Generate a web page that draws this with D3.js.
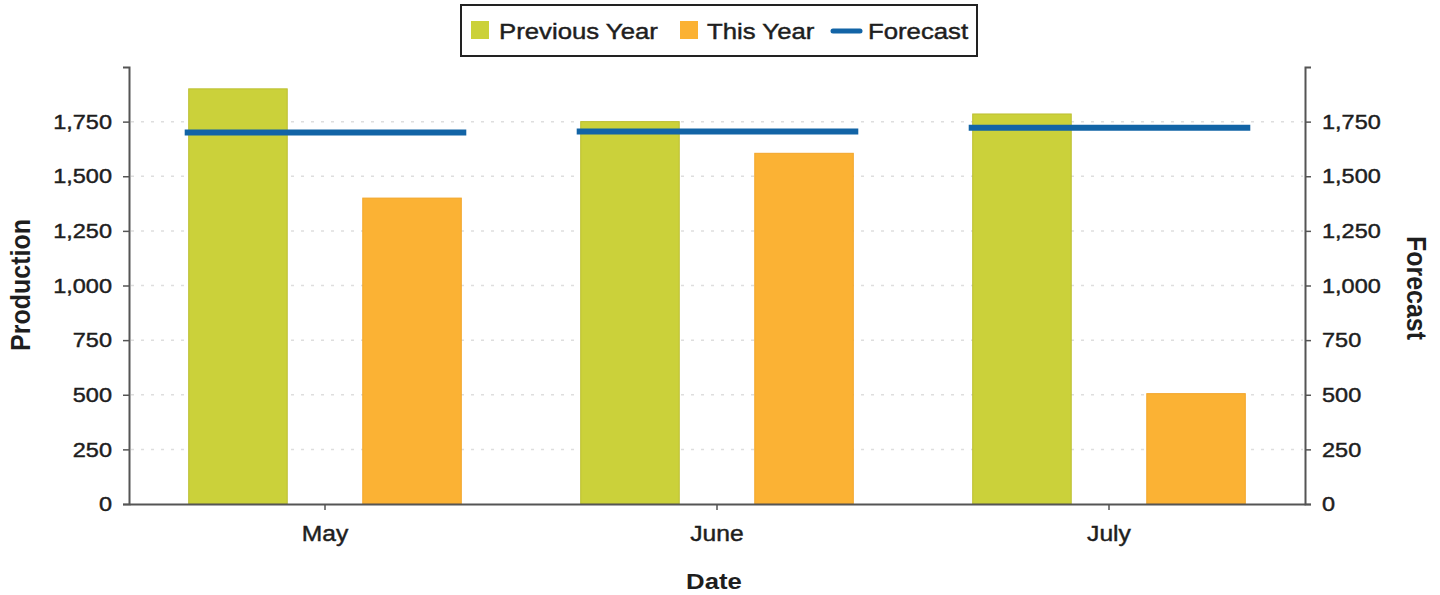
<!DOCTYPE html>
<html>
<head>
<meta charset="utf-8">
<script src="https://cdn.jsdelivr.net/npm/d3@7"></script>
<style>
  html, body { margin: 0; padding: 0; background: #fff; }
  svg { display: block; }
  text { font-family: "Liberation Sans", Arial, sans-serif; fill: #1e1e1e; }
</style>
</head>
<body>
<svg id="chart" width="1440" height="595"></svg>
<script>
// ---- data ----
const categories = ["May", "June", "July"];
const seriesNames = ["Previous Year", "This Year"];
const previousYear = [1900, 1750, 1785];
const thisYear = [1400, 1605, 505];
const forecast = [1700, 1705, 1722];
const tickValues = [0, 250, 500, 750, 1000, 1250, 1500, 1750];

// ---- styles ----
const colors = { "Previous Year": "#cbd13a", "This Year": "#fbb234", "Forecast": "#1264a6" };
const SX = 1.12; // horizontal stretch of the scanned text

const svg = d3.select("#chart");
const mLeft = 129, mRight = 1305, mTop = 67, mBottom = 504;

const x0 = d3.scaleBand().domain(categories).range([mLeft, mRight]).padding(0);
const x1 = d3.scaleBand().domain(seriesNames).range([0, x0.bandwidth()])
  .paddingInner(0.434).paddingOuter(0.343);
const yL = d3.scaleLinear().domain([0, 2000]).range([mBottom, mTop]);
const yR = d3.scaleLinear().domain([0, 2000]).range([mBottom, mTop]);

function stretch(sel) {
  sel.each(function () {
    const t = d3.select(this);
    const x = +t.attr("x") || 0;
    t.attr("transform", `translate(${x},0) scale(${SX},1) translate(${-x},0)`);
  });
}
function heavy(sel) {
  sel.attr("stroke", "#1e1e1e").attr("stroke-width", 0.45);
}

// gridlines
svg.append("g").selectAll("line").data(tickValues.filter(d => d > 0)).join("line")
  .attr("x1", mLeft + 2).attr("x2", mRight - 2)
  .attr("y1", d => yL(d)).attr("y2", d => yL(d))
  .attr("stroke", "#dedede").attr("stroke-width", 1.5)
  .attr("stroke-dasharray", "3,7");

// bars
const rows = categories.map((c, i) => ({ cat: c, vals: [
  { key: "Previous Year", v: previousYear[i] },
  { key: "This Year", v: thisYear[i] }] }));
const groups = svg.append("g").selectAll("g").data(rows).join("g")
  .attr("transform", d => `translate(${x0(d.cat)},0)`);
groups.selectAll("rect").data(d => d.vals).join("rect")
  .attr("x", d => x1(d.key)).attr("width", x1.bandwidth())
  .attr("y", d => yL(d.v)).attr("height", d => yL(0) - yL(d.v))
  .attr("fill", d => colors[d.key])
  .attr("stroke", d => d.key === "Previous Year" ? "#bcbf30" : "#f2a52a")
  .attr("stroke-width", 1);

// forecast segments
svg.append("g").selectAll("line").data(categories).join("line")
  .attr("x1", (c) => x0(c) + x1("Previous Year") - 4)
  .attr("x2", (c) => x0(c) + x1("This Year") + x1.bandwidth() + 5)
  .attr("y1", (c, i) => yR(forecast[i])).attr("y2", (c, i) => yR(forecast[i]))
  .attr("stroke", colors["Forecast"]).attr("stroke-width", 6);

// axes
const fmt = d3.format(",");
const axL = svg.append("g").attr("transform", `translate(${mLeft},0)`)
  .call(d3.axisLeft(yL).tickValues(tickValues).tickFormat(fmt).tickSize(6).tickPadding(11));
const axR = svg.append("g").attr("transform", `translate(${mRight},0)`)
  .call(d3.axisRight(yR).tickValues(tickValues).tickFormat(fmt).tickSize(6).tickPadding(11));
const axB = svg.append("g").attr("transform", `translate(0,${mBottom})`)
  .call(d3.axisBottom(x0).tickSize(6).tickPadding(15).tickSizeOuter(0));

[axL, axR, axB].forEach(a => {
  a.select(".domain").attr("stroke", "#555").attr("stroke-width", 2);
  a.selectAll(".tick line").attr("stroke", "#555").attr("stroke-width", 1.5);
  a.selectAll("text").attr("font-size", 21).attr("fill", "#1e1e1e")
    .style("font-family", '"Liberation Sans", Arial, sans-serif').call(heavy);
});
axB.selectAll("text").attr("font-size", 22);
axL.selectAll(".tick text").call(stretch);
axR.selectAll(".tick text").call(stretch);
axB.selectAll(".tick text").call(stretch);

// axis titles
svg.append("text").attr("transform", `translate(30,285) rotate(-90) scale(1,${SX})`)
  .attr("text-anchor", "middle").attr("font-size", 25).attr("font-weight", "bold")
  .text("Production");
svg.append("text").attr("transform", `translate(1407,288) rotate(90) scale(1,${SX})`)
  .attr("text-anchor", "middle").attr("font-size", 25).attr("font-weight", "bold")
  .text("Forecast");
svg.append("text").attr("x", 714).attr("y", 589)
  .attr("text-anchor", "middle").attr("font-size", 23).attr("font-weight", "bold")
  .text("Date").call(stretch);

// legend
const lg = svg.append("g");
lg.append("rect").attr("x", 461).attr("y", 5).attr("width", 516).attr("height", 51)
  .attr("fill", "#fff").attr("stroke", "#222").attr("stroke-width", 2);
const legendItems = [
  { key: "Previous Year", type: "rect", sx: 471, tx: 499 },
  { key: "This Year", type: "rect", sx: 680, tx: 707 },
  { key: "Forecast", type: "line", sx: 833, tx: 868 }
];
legendItems.forEach(it => {
  if (it.type === "rect") {
    lg.append("rect").attr("x", it.sx).attr("y", 21).attr("width", 18).attr("height", 18)
      .attr("fill", colors[it.key]);
  } else {
    lg.append("line").attr("x1", it.sx).attr("x2", it.sx + 27).attr("y1", 31).attr("y2", 31)
      .attr("stroke", colors[it.key]).attr("stroke-width", 5).attr("stroke-linecap", "round");
  }
  lg.append("text").attr("x", it.tx).attr("y", 39).attr("font-size", 23)
    .text(it.key).call(stretch).call(heavy);
});
</script>
</body>
</html>
